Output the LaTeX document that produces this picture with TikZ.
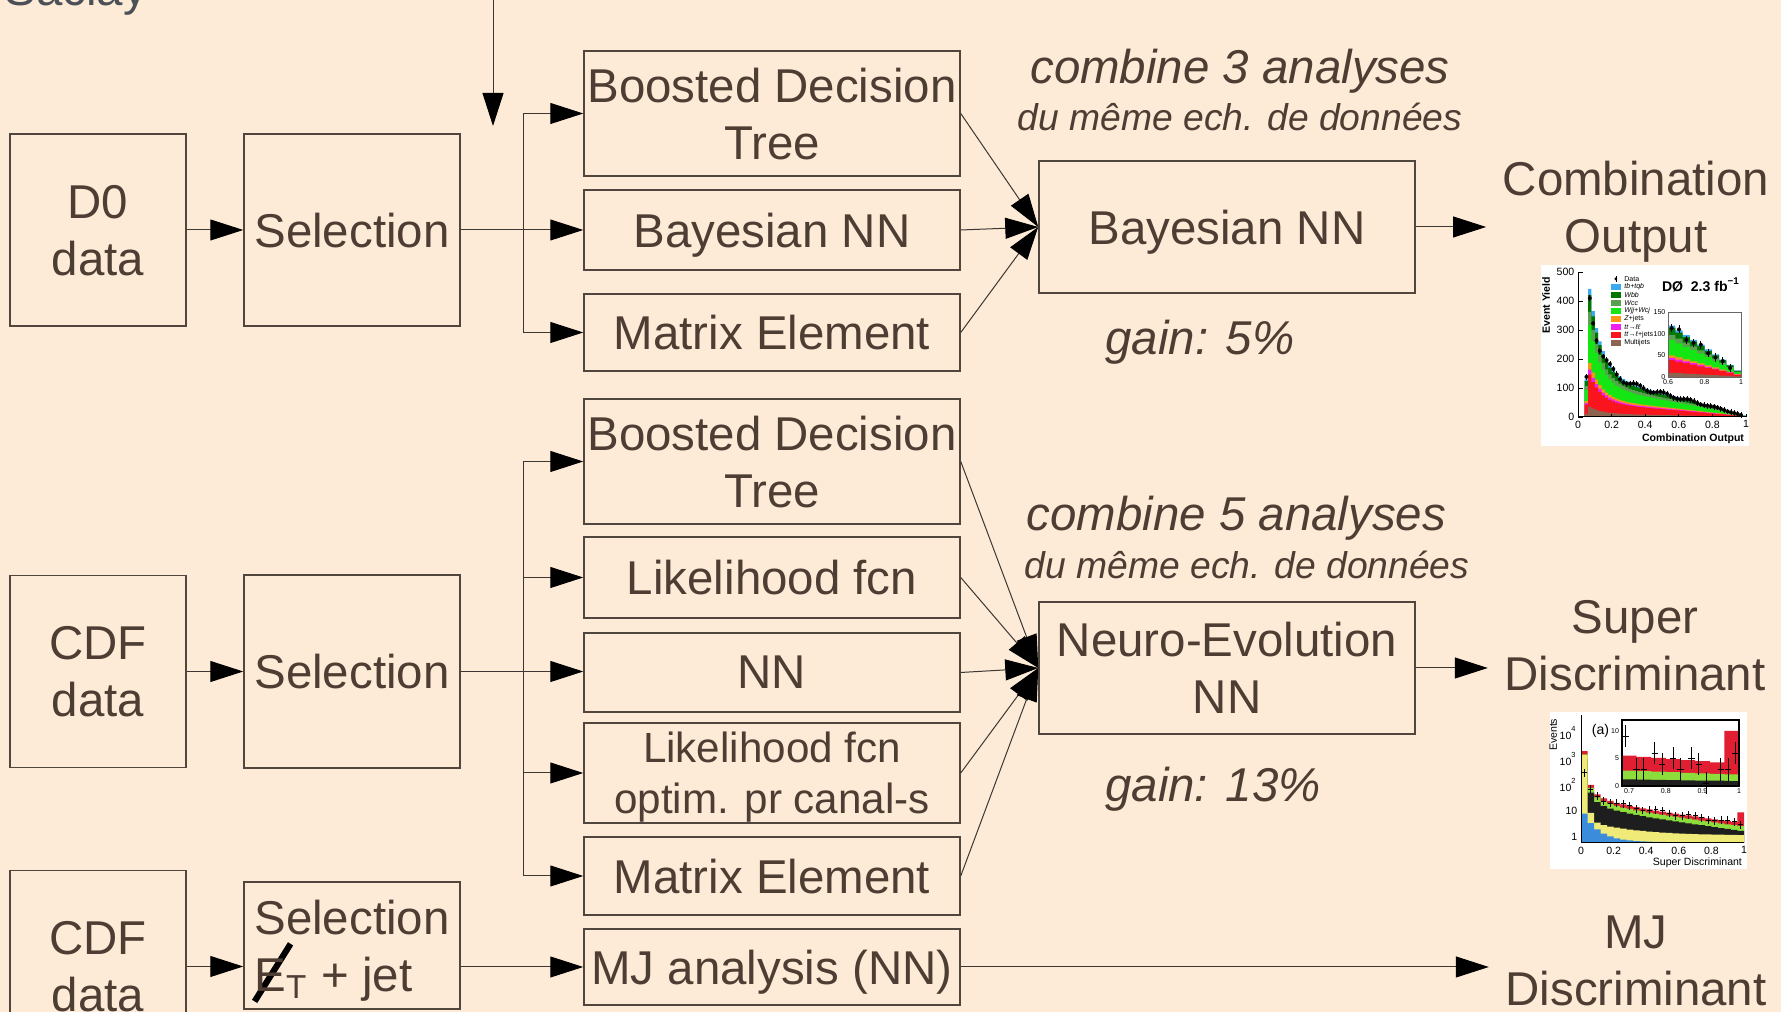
\documentclass[tikz,border=0pt]{standalone}
\usepackage{fontspec}
\setmainfont{Liberation Sans}
\usetikzlibrary{arrows.meta}

\definecolor{paper}{RGB}{253,235,215}
\definecolor{ink}{RGB}{77,61,51}
\definecolor{edge}{RGB}{80,70,62}
\definecolor{wire}{RGB}{60,55,50}
\definecolor{slate}{RGB}{74,80,86}
% plot colours
\definecolor{tbq}{RGB}{60,170,240}
\definecolor{wbb}{RGB}{0,120,0}
\definecolor{wcc}{RGB}{90,160,80}
\definecolor{wjj}{RGB}{20,230,20}
\definecolor{zj}{RGB}{250,150,20}
\definecolor{tll}{RGB}{240,30,240}
\definecolor{tlj}{RGB}{250,20,30}
\definecolor{mjt}{RGB}{140,100,80}
\definecolor{sdred}{RGB}{225,30,50}
\definecolor{sdgreen}{RGB}{140,220,60}
\definecolor{sdblack}{RGB}{30,30,30}
\definecolor{sdyellow}{RGB}{240,235,120}
\definecolor{sdblue}{RGB}{60,140,220}

\newcommand\bigsz{\fontsize{13.5}{16.2}\selectfont}
\newcommand\midsz{\fontsize{12}{14.5}\selectfont}
\newcommand\notesz{\fontsize{10.6}{12.7}\selectfont}
\newcommand\plotsz{\fontsize{3}{3.6}\selectfont}
\newcommand\legsz{\fontsize{2}{2.4}\selectfont}
\newcommand\metE{\makebox[0pt][l]{\kern-.05em\raisebox{-.25em}{\color{black}\rotatebox{58}{\rule{1.43em}{.13em}}}}E\textsubscript{T}}

\begin{document}
\begin{tikzpicture}[x=1mm,y=1mm,
 box/.style={draw=edge,line width=.15mm,text=ink,font=\bigsz,align=center,inner sep=0pt,text depth=0pt,minimum width=37.6mm},
 src/.style={box,minimum width=17.6mm,minimum height=19.2mm},
 sel/.style={box,minimum width=21.6mm},
 flow/.style={-{Triangle[length=3.3mm,width=2.1mm,color=black]},draw=wire,line width=.1mm},
 result/.style={text=ink,font=\bigsz,align=center,inner sep=1.6mm,text depth=0pt},
 note/.style={text=ink,font=\bigsz\itshape,inner sep=0pt,text depth=0pt},
 sub/.style={text=ink,font=\notesz\itshape,inner sep=0pt,text depth=0pt},
 tick/.style={font=\plotsz,inner sep=.3mm},
 leg/.style={font=\legsz,inner sep=.2mm,anchor=west},
 declare function={
  yieldA(\x)=(\x<0.055)*130+(\x>=0.055)*(300*exp(-(\x-0.06)/0.07)+150*(1-\x)^0.9);
  lsum(\x)=0.5+0.9*(1-\x)+0.5*exp(-\x/0.12)+1.4*exp(-\x/0.025);
  lyel(\x)=0.05+0.6*exp(-\x/0.3)+2.6*exp(-\x/0.02);
  lblu(\x)=1.1*exp(-\x/0.1)-0.2;}]
\fill[paper] (0,0) rectangle (178.1,-101.2);
\useasboundingbox (0,0) rectangle (178.1,-101.2);
\node[anchor=base west,text=slate,font=\bigsz,inner sep=0pt] (saclay) at (0.4,-0.55) {Saclay};

% D0 chain
\node[src] (d0) at (9.8,-23.0) {D0\\data};
\node[sel,minimum height=19.2mm] (sel1) at (35.2,-23.0) {Selection};
\node[box,minimum height=12.5mm] (bdt1) at (77.2,-11.35) {Boosted Decision\\Tree};
\node[box,minimum height=8mm] (bnn1) at (77.2,-23.0) {Bayesian NN};
\node[box,minimum height=7.7mm] (me1) at (77.2,-33.25) {Matrix Element};
\node[box,minimum height=13.2mm] (comb1) at (122.7,-22.7) {Bayesian NN};
\node[note] (c3) at (124.0,-6.6) {combine 3 analyses};
\node[sub] (c3s) at (124.0,-11.7) {du même ech. de données};
\node[note] (g5) at (120.0,-33.7) {gain: 5\%};
\node[result] (combout) at (163.6,-20.7) {Combination\\Output};
\coordinate (feedtop) at (49.3,0.5);
\coordinate (feedend) at (49.3,-12.6);
\draw[flow] (feedtop) -- (feedend);
\draw[flow] (d0) -- (sel1);
\draw[flow] (sel1.east) -- ++(6.3,0) |- (bdt1.west);
\draw[flow] (sel1) -- (bnn1);
\draw[flow] (sel1.east) -- ++(6.3,0) |- (me1.west);
\foreach \a in {bdt1,bnn1,me1} \draw[flow] (\a.east) -- (comb1.west);
\draw[flow] (comb1.east) -- (comb1.east -| combout.west);

% CDF chain
\node[src] (cdf1) at (9.8,-67.15) {CDF\\data};
\node[sel,minimum height=19.3mm] (sel2) at (35.2,-67.15) {Selection};
\node[box,minimum height=12.5mm] (bdt2) at (77.2,-46.15) {Boosted Decision\\Tree};
\node[box,minimum height=8.1mm] (lf) at (77.2,-57.75) {Likelihood fcn};
\node[box,minimum height=7.9mm] (nn) at (77.2,-67.25) {NN};
\node[box,minimum height=10mm,font=\midsz] (lfopt) at (77.2,-77.3) {Likelihood fcn\\optim. pr canal-s};
\node[box,minimum height=7.8mm] (me2) at (77.2,-87.6) {Matrix Element};
\node[box,minimum height=13.2mm] (ne) at (122.7,-66.8) {Neuro-Evolution\\NN};
\node[note] (c5) at (123.65,-51.35) {combine 5 analyses};
\node[sub] (c5s) at (124.7,-56.5) {du même ech. de données};
\node[note] (g13) at (121.3,-78.4) {gain: 13\%};
\node[result] (superout) at (163.5,-64.5) {Super\\Discriminant};
\draw[flow] (cdf1) -- (sel2);
\foreach \a in {bdt2,lf,lfopt,me2} \draw[flow] (sel2.east) -- ++(6.3,0) |- (\a.west);
\draw[flow] (sel2.east) -- (sel2.east -| nn.west);
\foreach \a in {bdt2,lf,nn,lfopt,me2} \draw[flow] (\a.east) -- (ne.west);
\draw[flow] (ne.east) -- (ne.east -| superout.west);

% CDF MET + jet chain
\node[src] (cdf2) at (9.8,-96.65) {CDF\\data};
\node[sel,minimum height=12.7mm,align=left] (selmet) at (35.2,-94.55) {Selection\\\metE\ + jet};
\node[box,minimum height=7.6mm] (mj) at (77.2,-96.7) {MJ analysis (NN)};
\node[result] (mjout) at (163.6,-96.1) {MJ\\Discriminant};
\draw[flow] (cdf2.east) -- (cdf2.east -| selmet.west);
\draw[flow] (selmet.east |- mj.west) -- (mj.west);
\draw[flow] (mj.east) -- (mj.east -| mjout.west);

% combination output plot
\fill[white] (154.1,-26.5) rectangle (174.9,-44.6);
\begin{scope}[shift={(157.8,-41.7)},x=16.8mm,y=.029mm]
 \foreach \fr/\col in {1/tbq,.95/wbb,.82/wcc,.72/wjj,.42/zj,.37/tll,.33/tlj,.08/mjt}
  \fill[\col] (0.04,0) -- plot[const plot,domain=0.04:0.98,samples=48] (\x,{\fr*yieldA(\x)})
   -- (1,{\fr*yieldA(0.98)}) -- (1,0) -- cycle;
 \foreach \xx in {0.05,0.07,...,0.99} {
  \pgfmathsetmacro\yy{yieldA(\xx)*(1+.07*sin(2300*\xx))}
  \draw[line width=.08mm] (\xx,{\yy-10}) -- (\xx,{\yy+10});
  \fill (\xx,\yy) circle[radius=.2mm];
 }
 \draw[line width=.1mm] (0,500) -- (0,0) -- (1,0);
 \foreach \v in {0,100,...,500} {
  \draw[line width=.08mm] (0,\v) -- (0.03,\v);
  \node[tick,anchor=east] (ya\v) at (0,\v) {\v};
 }
 \foreach \v [count=\i] in {0,0.2,0.4,0.6,0.8,1} {
  \draw[line width=.08mm] (\v,0) -- (\v,12);
  \node[tick,anchor=north] (xa\i) at (\v,0) {\v};
 }
 \node[tick,font=\plotsz\bfseries,rotate=90,anchor=east] (ylabA) at (-0.19,495) {Event Yield};
 \node[tick,font=\plotsz\bfseries,anchor=east] (xlabA) at (1.01,-76) {Combination Output};
 \node[tick,font=\fontsize{4}{4.8}\selectfont\bfseries,anchor=east] (tagA) at (0.99,455) {DØ\ \ 2.3 fb\textsuperscript{−1}};
 % legend
 \fill (0.225,476) circle[radius=.15mm];
 \draw[line width=.06mm] (0.225,466) -- (0.225,486);
 \node[leg] (lg0) at (0.26,476) {Data};
 \foreach \col/\nm [count=\i] in {tbq/{\textit{tb+tqb}},wbb/{\textit{Wbb}},wcc/{\textit{Wcc}},wjj/{\textit{Wjj+Wcj}},zj/{\textit{Z}+jets},tll/{\textit{tt}→\textit{ℓℓ}},tlj/{\textit{tt}→\textit{ℓ}+jets},mjt/Multijets} {
  \fill[\col] (0.195,{476-27.6*\i-9}) rectangle (0.255,{476-27.6*\i+9});
  \node[leg] (lg\i) at (0.26,{476-27.6*\i}) {\nm};
 }
 % inset
 \fill[white] (0.536,138) rectangle (0.97,362);
 \foreach \fr/\col in {1/tbq,.95/wbb,.82/wcc,.72/wjj,.42/zj,.37/tll,.33/tlj,.08/mjt}
  \fill[\col] (0.536,138) -- plot[const plot,domain=0.6:0.96,samples=10] ({1.085*\x-0.115},{138+2.687*\fr*yieldA(\x)})
   -- (0.97,{138+2.687*\fr*yieldA(0.96)}) -- (0.97,138) -- cycle;
 \foreach \xx in {0.62,0.66,...,0.98} {
  \pgfmathsetmacro\yy{138+2.687*yieldA(\xx)*(1+.08*sin(2900*\xx))}
  \draw[line width=.08mm] ({1.085*\xx-0.115},{\yy-14}) -- ({1.085*\xx-0.115},{\yy+14});
  \fill ({1.085*\xx-0.115},\yy) circle[radius=.2mm];
 }
 \draw[line width=.06mm,black!60] (0.536,138) rectangle (0.97,362);
 \foreach \v/\p [count=\i] in {0/138,50/213,100/287,150/362}
  \node[leg,anchor=east] (iya\i) at (0.536,\p) {\v};
 \foreach \v/\p [count=\i] in {0.6/0.536,0.8/0.753,1/0.97}
  \node[leg,anchor=north] (ixa\i) at (\p,138) {\v};
\end{scope}

% super discriminant plot
\fill[white] (155.0,-71.2) rectangle (174.7,-86.9);
\begin{scope}[shift={(158.1,-83.7)},x=16.3mm,y=2.6mm]
 \fill[sdred] (0,-.23) -- plot[const plot,domain=0:0.96,samples=25] (\x,{(\x>0.95)*0.95+(\x<0.95)*lsum(\x)})
  -- (1,0.95) -- (1,-.23) -- cycle;
 \fill[sdgreen] (0,-.23) -- plot[const plot,domain=0:0.96,samples=25] (\x,{lsum(\x)-0.12})
  -- (1,{lsum(0.96)-0.12}) -- (1,-.23) -- cycle;
 \fill[sdblack] (0,-.23) -- plot[const plot,domain=0:0.96,samples=25] (\x,{lsum(\x)-0.3})
  -- (1,{lsum(0.96)-0.3}) -- (1,-.23) -- cycle;
 \fill[sdyellow] (0,-.23) -- plot[const plot,domain=0:0.96,samples=25] (\x,{min(lyel(\x),lsum(\x)-0.15)})
  -- (1,{lyel(0.96)}) -- (1,-.23) -- cycle;
 \fill[sdblue] (0,-.23) -- plot[const plot,domain=0:0.96,samples=25] (\x,{max(lblu(\x),-0.23)})
  -- (1,-.23) -- cycle;
 \foreach \xx in {0.02,0.06,...,0.98} {
  \pgfmathsetmacro\yy{lsum(\xx)+0.06*sin(1700*\xx)}
  \draw[line width=.1mm] ({\xx-0.015},\yy) -- ({\xx+0.015},\yy) (\xx,{\yy-0.15}) -- (\xx,{\yy+0.15});
 }
 \draw[line width=.1mm] (0,4.69) -- (0,-.23) -- (1,-.23);
 \foreach \v/\t [count=\i] in {0/1,1/10,2/10\textsuperscript{2},3/10\textsuperscript{3},4/10\textsuperscript{4}}
  \node[tick,anchor=east] (yb\i) at (0,\v) {\t};
 \foreach \v [count=\i] in {0,0.2,0.4,0.6,0.8,1}
  \node[tick,anchor=north] (xb\i) at (\v,-.23) {\v};
 \node[tick,anchor=east] (xlabB) at (1.01,-1.0) {Super Discriminant};
 \node[tick,rotate=90,anchor=east] (ylabB) at (-0.17,4.69) {Events};
 \node[tick,font=\fontsize{4}{4.8}\selectfont] (tagB) at (0.12,4.08) {(a)};
 % inset
 \fill[white] (0.25,1.96) rectangle (0.97,4.5);
 \fill[sdred] (0.25,1.96) -- plot[const plot,domain=0.68:0.96,samples=8] ({0.25+2.25*(\x-0.68)},{1.96+0.212*((\x>0.95)*10+(\x<0.95)*(5.5-5*(\x-0.68)))})
  -- (0.97,{1.96+0.212*10}) -- (0.97,1.96) -- cycle;
 \fill[sdgreen] (0.25,1.96) -- plot[const plot,domain=0.68:0.96,samples=8] ({0.25+2.25*(\x-0.68)},{1.96+0.212*(2.8-2.5*(\x-0.68))})
  -- (0.97,{1.96+0.212*2.1}) -- (0.97,1.96) -- cycle;
 \fill[sdblack] (0.25,1.96) -- plot[const plot,domain=0.68:0.96,samples=8] ({0.25+2.25*(\x-0.68)},{1.96+0.212*(1.2-1*(\x-0.68))})
  -- (0.97,{1.96+0.212*0.9}) -- (0.97,1.96) -- cycle;
 \fill[sdyellow] (0.25,1.96) rectangle (0.97,{1.96+0.212*0.25});
 \foreach \xx/\vv in {0.69/9,0.72/3,0.74/3,0.77/6,0.79/4,0.82/5,0.84/3,0.87/5,0.89/4,0.91/0.5,0.95/3,0.97/3,0.99/6} {
  \draw[line width=.08mm] ({0.25+2.25*(\xx-0.68)-0.02},{1.96+0.212*\vv}) -- ({0.25+2.25*(\xx-0.68)+0.02},{1.96+0.212*\vv})
   ({0.25+2.25*(\xx-0.68)},{1.96+0.212*(\vv-2)}) -- ({0.25+2.25*(\xx-0.68)},{1.96+0.212*(\vv+2)});
 }
 \draw[line width=.25mm] (0.25,1.96) rectangle (0.97,4.5);
 \foreach \v/\p [count=\i] in {0/1.96,5/3.02,10/4.08}
  \node[leg,anchor=east] (iyb\i) at (0.25,\p) {\v};
 \foreach \v/\p [count=\i] in {0.7/0.295,0.8/0.52,0.9/0.745,1/0.97}
  \node[leg,anchor=north] (ixb\i) at (\p,1.96) {\v};
\end{scope}
\end{tikzpicture}
\end{document}
